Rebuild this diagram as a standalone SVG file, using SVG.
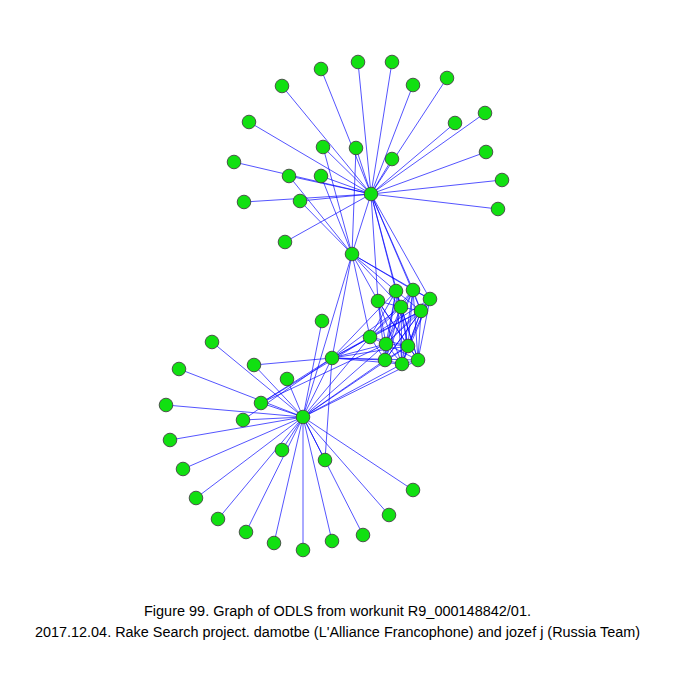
<svg xmlns="http://www.w3.org/2000/svg" width="675" height="675" viewBox="0 0 675 675">
<style>
.e line{stroke:#0000ff;stroke-width:0.9;stroke-opacity:0.75}
.n circle{fill:#11e011;stroke:#444;stroke-width:0.9}
.t{font-family:"Liberation Sans Narrow","Liberation Sans",Arial,sans-serif;font-size:14px;fill:#000;text-anchor:middle}
</style>
<rect width="675" height="675" fill="#fff"/>
<g id="connectors" class="e">
<line x1="371" y1="194" x2="321" y2="69"/>
<line x1="371" y1="194" x2="358" y2="62"/>
<line x1="371" y1="194" x2="392" y2="62"/>
<line x1="371" y1="194" x2="282" y2="86"/>
<line x1="371" y1="194" x2="413" y2="85"/>
<line x1="371" y1="194" x2="447" y2="78"/>
<line x1="371" y1="194" x2="485" y2="113"/>
<line x1="371" y1="194" x2="455" y2="123"/>
<line x1="371" y1="194" x2="249" y2="122"/>
<line x1="371" y1="194" x2="486" y2="152"/>
<line x1="371" y1="194" x2="323" y2="147"/>
<line x1="371" y1="194" x2="356" y2="148"/>
<line x1="371" y1="194" x2="392" y2="159"/>
<line x1="371" y1="194" x2="234" y2="162"/>
<line x1="371" y1="194" x2="289" y2="176"/>
<line x1="371" y1="194" x2="321" y2="176"/>
<line x1="371" y1="194" x2="502" y2="180"/>
<line x1="371" y1="194" x2="244" y2="202"/>
<line x1="371" y1="194" x2="300" y2="201"/>
<line x1="371" y1="194" x2="498" y2="209"/>
<line x1="371" y1="194" x2="285" y2="242"/>
<line x1="371" y1="194" x2="352" y2="254"/>
<line x1="371" y1="194" x2="378" y2="301"/>
<line x1="371" y1="194" x2="396" y2="291"/>
<line x1="371" y1="194" x2="413" y2="290"/>
<line x1="371" y1="194" x2="430" y2="299"/>
<line x1="371" y1="194" x2="421" y2="311"/>
<line x1="371" y1="194" x2="401" y2="307"/>
<line x1="352" y1="254" x2="323" y2="147"/>
<line x1="352" y1="254" x2="356" y2="148"/>
<line x1="352" y1="254" x2="289" y2="176"/>
<line x1="352" y1="254" x2="321" y2="176"/>
<line x1="352" y1="254" x2="300" y2="201"/>
<line x1="352" y1="254" x2="378" y2="301"/>
<line x1="352" y1="254" x2="396" y2="291"/>
<line x1="352" y1="254" x2="413" y2="290"/>
<line x1="352" y1="254" x2="430" y2="299"/>
<line x1="352" y1="254" x2="401" y2="307"/>
<line x1="352" y1="254" x2="303" y2="417"/>
<line x1="352" y1="254" x2="332" y2="358"/>
<line x1="352" y1="254" x2="370" y2="337"/>
<line x1="378" y1="301" x2="401" y2="307"/>
<line x1="378" y1="301" x2="386" y2="344"/>
<line x1="378" y1="301" x2="408" y2="346"/>
<line x1="378" y1="301" x2="385" y2="360"/>
<line x1="378" y1="301" x2="402" y2="364"/>
<line x1="378" y1="301" x2="418" y2="360"/>
<line x1="396" y1="291" x2="401" y2="307"/>
<line x1="396" y1="291" x2="421" y2="311"/>
<line x1="396" y1="291" x2="386" y2="344"/>
<line x1="396" y1="291" x2="408" y2="346"/>
<line x1="396" y1="291" x2="385" y2="360"/>
<line x1="396" y1="291" x2="402" y2="364"/>
<line x1="396" y1="291" x2="418" y2="360"/>
<line x1="396" y1="291" x2="370" y2="337"/>
<line x1="413" y1="290" x2="430" y2="299"/>
<line x1="413" y1="290" x2="401" y2="307"/>
<line x1="413" y1="290" x2="421" y2="311"/>
<line x1="413" y1="290" x2="370" y2="337"/>
<line x1="413" y1="290" x2="386" y2="344"/>
<line x1="413" y1="290" x2="408" y2="346"/>
<line x1="413" y1="290" x2="385" y2="360"/>
<line x1="413" y1="290" x2="402" y2="364"/>
<line x1="413" y1="290" x2="418" y2="360"/>
<line x1="430" y1="299" x2="421" y2="311"/>
<line x1="430" y1="299" x2="370" y2="337"/>
<line x1="430" y1="299" x2="386" y2="344"/>
<line x1="430" y1="299" x2="408" y2="346"/>
<line x1="430" y1="299" x2="385" y2="360"/>
<line x1="430" y1="299" x2="402" y2="364"/>
<line x1="430" y1="299" x2="418" y2="360"/>
<line x1="401" y1="307" x2="421" y2="311"/>
<line x1="401" y1="307" x2="370" y2="337"/>
<line x1="401" y1="307" x2="386" y2="344"/>
<line x1="401" y1="307" x2="408" y2="346"/>
<line x1="401" y1="307" x2="385" y2="360"/>
<line x1="401" y1="307" x2="402" y2="364"/>
<line x1="401" y1="307" x2="418" y2="360"/>
<line x1="421" y1="311" x2="370" y2="337"/>
<line x1="421" y1="311" x2="386" y2="344"/>
<line x1="421" y1="311" x2="408" y2="346"/>
<line x1="421" y1="311" x2="385" y2="360"/>
<line x1="421" y1="311" x2="402" y2="364"/>
<line x1="421" y1="311" x2="418" y2="360"/>
<line x1="370" y1="337" x2="386" y2="344"/>
<line x1="370" y1="337" x2="408" y2="346"/>
<line x1="370" y1="337" x2="385" y2="360"/>
<line x1="386" y1="344" x2="408" y2="346"/>
<line x1="386" y1="344" x2="385" y2="360"/>
<line x1="386" y1="344" x2="402" y2="364"/>
<line x1="386" y1="344" x2="418" y2="360"/>
<line x1="408" y1="346" x2="385" y2="360"/>
<line x1="408" y1="346" x2="402" y2="364"/>
<line x1="408" y1="346" x2="418" y2="360"/>
<line x1="385" y1="360" x2="402" y2="364"/>
<line x1="402" y1="364" x2="418" y2="360"/>
<line x1="332" y1="358" x2="396" y2="291"/>
<line x1="332" y1="358" x2="401" y2="307"/>
<line x1="332" y1="358" x2="421" y2="311"/>
<line x1="332" y1="358" x2="370" y2="337"/>
<line x1="332" y1="358" x2="386" y2="344"/>
<line x1="332" y1="358" x2="408" y2="346"/>
<line x1="332" y1="358" x2="385" y2="360"/>
<line x1="332" y1="358" x2="402" y2="364"/>
<line x1="332" y1="358" x2="418" y2="360"/>
<line x1="332" y1="358" x2="254" y2="365"/>
<line x1="332" y1="358" x2="261" y2="403"/>
<line x1="332" y1="358" x2="325" y2="460"/>
<line x1="332" y1="358" x2="303" y2="417"/>
<line x1="303" y1="417" x2="212" y2="342"/>
<line x1="303" y1="417" x2="179" y2="369"/>
<line x1="303" y1="417" x2="254" y2="365"/>
<line x1="303" y1="417" x2="287" y2="379"/>
<line x1="303" y1="417" x2="261" y2="403"/>
<line x1="303" y1="417" x2="166" y2="405"/>
<line x1="303" y1="417" x2="243" y2="420"/>
<line x1="303" y1="417" x2="170" y2="440"/>
<line x1="303" y1="417" x2="282" y2="450"/>
<line x1="303" y1="417" x2="325" y2="460"/>
<line x1="303" y1="417" x2="183" y2="469"/>
<line x1="303" y1="417" x2="196" y2="498"/>
<line x1="303" y1="417" x2="413" y2="490"/>
<line x1="303" y1="417" x2="218" y2="519"/>
<line x1="303" y1="417" x2="389" y2="515"/>
<line x1="303" y1="417" x2="246" y2="532"/>
<line x1="303" y1="417" x2="363" y2="535"/>
<line x1="303" y1="417" x2="274" y2="543"/>
<line x1="303" y1="417" x2="332" y2="541"/>
<line x1="303" y1="417" x2="303" y2="550"/>
<line x1="303" y1="417" x2="322" y2="321"/>
<line x1="303" y1="417" x2="370" y2="337"/>
<line x1="303" y1="417" x2="386" y2="344"/>
<line x1="303" y1="417" x2="408" y2="346"/>
<line x1="303" y1="417" x2="385" y2="360"/>
<line x1="303" y1="417" x2="402" y2="364"/>
<line x1="303" y1="417" x2="418" y2="360"/>
<line x1="261" y1="403" x2="370" y2="337"/>
<line x1="261" y1="403" x2="386" y2="344"/>
<line x1="243" y1="420" x2="332" y2="358"/>
</g>
<g class="n">
<g id="hub1"><circle cx="371" cy="194" r="6.8"/></g>
<g id="hub2"><circle cx="352" cy="254" r="6.8"/></g>
<g id="hub3"><circle cx="303" cy="417" r="6.8"/></g>
<g id="u1"><circle cx="321" cy="69" r="6.8"/></g>
<g id="u2"><circle cx="358" cy="62" r="6.8"/></g>
<g id="u3"><circle cx="392" cy="62" r="6.8"/></g>
<g id="u4"><circle cx="282" cy="86" r="6.8"/></g>
<g id="u5"><circle cx="413" cy="85" r="6.8"/></g>
<g id="u6"><circle cx="447" cy="78" r="6.8"/></g>
<g id="u7"><circle cx="485" cy="113" r="6.8"/></g>
<g id="u8"><circle cx="455" cy="123" r="6.8"/></g>
<g id="u9"><circle cx="249" cy="122" r="6.8"/></g>
<g id="u10"><circle cx="486" cy="152" r="6.8"/></g>
<g id="u11"><circle cx="323" cy="147" r="6.8"/></g>
<g id="u12"><circle cx="356" cy="148" r="6.8"/></g>
<g id="u13"><circle cx="392" cy="159" r="6.8"/></g>
<g id="u14"><circle cx="234" cy="162" r="6.8"/></g>
<g id="u15"><circle cx="289" cy="176" r="6.8"/></g>
<g id="u16"><circle cx="321" cy="176" r="6.8"/></g>
<g id="u17"><circle cx="502" cy="180" r="6.8"/></g>
<g id="u18"><circle cx="244" cy="202" r="6.8"/></g>
<g id="u19"><circle cx="300" cy="201" r="6.8"/></g>
<g id="u20"><circle cx="498" cy="209" r="6.8"/></g>
<g id="u21"><circle cx="285" cy="242" r="6.8"/></g>
<g id="c1"><circle cx="378" cy="301" r="6.8"/></g>
<g id="c2"><circle cx="396" cy="291" r="6.8"/></g>
<g id="c3"><circle cx="413" cy="290" r="6.8"/></g>
<g id="c4"><circle cx="430" cy="299" r="6.8"/></g>
<g id="c5"><circle cx="401" cy="307" r="6.8"/></g>
<g id="c6"><circle cx="421" cy="311" r="6.8"/></g>
<g id="c7"><circle cx="370" cy="337" r="6.8"/></g>
<g id="c8"><circle cx="386" cy="344" r="6.8"/></g>
<g id="c9"><circle cx="408" cy="346" r="6.8"/></g>
<g id="c10"><circle cx="385" cy="360" r="6.8"/></g>
<g id="c11"><circle cx="402" cy="364" r="6.8"/></g>
<g id="c12"><circle cx="418" cy="360" r="6.8"/></g>
<g id="p"><circle cx="322" cy="321" r="6.8"/></g>
<g id="m"><circle cx="332" cy="358" r="6.8"/></g>
<g id="l1"><circle cx="212" cy="342" r="6.8"/></g>
<g id="l2"><circle cx="179" cy="369" r="6.8"/></g>
<g id="l3"><circle cx="254" cy="365" r="6.8"/></g>
<g id="l4"><circle cx="287" cy="379" r="6.8"/></g>
<g id="l5"><circle cx="261" cy="403" r="6.8"/></g>
<g id="l6"><circle cx="166" cy="405" r="6.8"/></g>
<g id="l7"><circle cx="243" cy="420" r="6.8"/></g>
<g id="l8"><circle cx="170" cy="440" r="6.8"/></g>
<g id="l9"><circle cx="282" cy="450" r="6.8"/></g>
<g id="l10"><circle cx="325" cy="460" r="6.8"/></g>
<g id="l11"><circle cx="183" cy="469" r="6.8"/></g>
<g id="l12"><circle cx="196" cy="498" r="6.8"/></g>
<g id="l13"><circle cx="413" cy="490" r="6.8"/></g>
<g id="l14"><circle cx="218" cy="519" r="6.8"/></g>
<g id="l15"><circle cx="389" cy="515" r="6.8"/></g>
<g id="l16"><circle cx="246" cy="532" r="6.8"/></g>
<g id="l17"><circle cx="363" cy="535" r="6.8"/></g>
<g id="l18"><circle cx="274" cy="543" r="6.8"/></g>
<g id="l19"><circle cx="332" cy="541" r="6.8"/></g>
<g id="l20"><circle cx="303" cy="550" r="6.8"/></g>
</g>
<text class="t" x="337.5" y="616" textLength="387" lengthAdjust="spacingAndGlyphs">Figure 99. Graph of ODLS from workunit R9_000148842/01.</text>
<text class="t" x="337.5" y="637" textLength="605" lengthAdjust="spacingAndGlyphs">2017.12.04. Rake Search project. damotbe (L'Alliance Francophone) and jozef j (Russia Team)</text>
</svg>
